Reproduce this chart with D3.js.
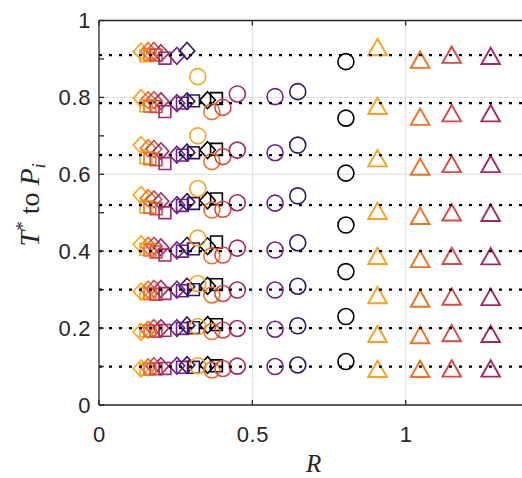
<!DOCTYPE html>
<html>
<head>
<meta charset="utf-8">
<script src="https://cdn.jsdelivr.net/npm/d3@7"></script>
<style>
  html, body { margin: 0; padding: 0; background: #fff; }
  svg { display: block; }
  .tick-label { font-family: "Liberation Sans", Arial, sans-serif; font-size: 22px; letter-spacing: 0.6px; fill: #262626; }
  .math { font-family: "Liberation Serif", "Times New Roman", serif; fill: #262626; }
</style>
</head>
<body>
<script>
// Reference levels drawn as dotted lines
const levels = [0.91, 0.785, 0.65, 0.52, 0.40, 0.30, 0.20, 0.10];

// One colour per series group (light to dark)
const groupColors = ["#f8a31b", "#f0711f", "#d34a47", "#a1296a", "#6e2185", "#301563", "#000000"];

// R value of each series, by marker type
const diamondR  = [0.137, 0.160, 0.179, 0.202, 0.254, 0.287, 0.354];
const squareR   = [0.153, 0.166, 0.186, 0.215, 0.272, 0.308, 0.383];
const circleR   = [0.322, 0.368, 0.404, 0.451, 0.574, 0.648, 0.805];
const triangleR = [0.908, 1.047, 1.150, 1.277];

// T* values, one list per colour (null where a point is absent)
const diamondT = [
  [0.919, 0.798, 0.676, 0.546, 0.418, 0.295, 0.190, 0.095],
  [0.921, 0.793, 0.668, 0.538, 0.414, 0.300, 0.196, 0.098],
  [0.921, 0.793, 0.666, 0.535, 0.414, 0.302, 0.200, 0.101],
  [0.915, 0.790, 0.660, 0.530, 0.410, 0.302, 0.200, 0.101],
  [0.908, 0.785, 0.651, 0.520, 0.402, 0.300, 0.200, 0.102],
  [0.921, 0.790, 0.657, 0.528, 0.414, 0.308, 0.207, 0.104],
  [null,  0.793, 0.663, 0.532, 0.413, 0.310, 0.208, 0.104]
];
const squareT = [
  [0.908, 0.778, 0.643, 0.515, 0.405, 0.290, 0.193, 0.093],
  [0.912, 0.777, 0.640, 0.514, 0.403, 0.290, 0.193, 0.094],
  [0.910, 0.776, 0.638, 0.510, 0.398, 0.288, 0.192, 0.094],
  [0.902, 0.763, 0.628, 0.500, 0.390, 0.290, 0.194, 0.095],
  [null,  0.785, 0.650, 0.519, 0.400, 0.297, 0.199, 0.098],
  [null,  0.791, 0.656, 0.524, 0.406, 0.300, 0.201, 0.098],
  [null,  0.797, 0.665, 0.536, 0.424, 0.313, 0.209, 0.102]
];
const circleT = [
  [0.854, 0.700, 0.563, 0.434, 0.316, 0.204, 0.102],
  [0.763, 0.633, 0.507, 0.388, 0.286, 0.191, 0.091],
  [0.774, 0.646, 0.509, 0.390, 0.290, 0.195, 0.095],
  [0.809, 0.663, 0.526, 0.408, 0.299, 0.199, 0.101],
  [0.802, 0.656, 0.525, 0.403, 0.299, 0.197, 0.100],
  [0.815, 0.676, 0.544, 0.422, 0.309, 0.206, 0.104],
  [0.893, 0.746, 0.603, 0.468, 0.347, 0.230, 0.113]
];
const triangleT = [
  [0.931, 0.778, 0.642, 0.505, 0.388, 0.286, 0.185, 0.094],
  [0.898, 0.750, 0.620, 0.492, 0.380, 0.277, 0.182, 0.094],
  [0.911, 0.759, 0.627, 0.501, 0.388, 0.282, 0.187, 0.095],
  [0.908, 0.759, 0.627, 0.500, 0.387, 0.281, 0.185, 0.095]
];

const xTicks = [0, 0.5, 1];
const xTickLabels = ["0", "0.5", "1"];
const yTicks = [0, 0.2, 0.4, 0.6, 0.8, 1];
const yTickLabels = ["0", "0.2", "0.4", "0.6", "0.8", "1"];
const yMinorTicks = d3.range(0, 1.0001, 0.1);

const W = 522, H = 478;
const mLeft = 99, mRight = 528.4, mTop = 20.5, mBottom = 405;

const x = d3.scaleLinear().domain([0, 1.4]).range([mLeft, mRight]);
const y = d3.scaleLinear().domain([0, 1]).range([mBottom, mTop]);

const svg = d3.select("body").append("svg").attr("width", W).attr("height", H);

// grid
const grid = svg.append("g").attr("stroke", "#dcdcdc").attr("stroke-width", 1);
grid.selectAll("line.gx").data(xTicks.filter(d => d > 0)).join("line")
  .attr("x1", d => x(d)).attr("x2", d => x(d)).attr("y1", mTop).attr("y2", mBottom);
grid.selectAll("line.gy").data(yTicks.filter(d => d > 0 && d < 1)).join("line")
  .attr("x1", mLeft).attr("x2", mRight).attr("y1", d => y(d)).attr("y2", d => y(d));

// marker shapes
function shapePath(kind, cx, cy) {
  if (kind === "diamond") {
    const a = 7.8, b = 8.4;
    return `M${cx},${cy - b}L${cx + a},${cy}L${cx},${cy + b}L${cx - a},${cy}Z`;
  }
  if (kind === "square") {
    const s = 5.9;
    return `M${cx - s},${cy - s}H${cx + s}V${cy + s}H${cx - s}Z`;
  }
  if (kind === "triangle") {
    const a = 9.3, b = 8.2;
    return `M${cx},${cy - b}L${cx + a},${cy + b}L${cx - a},${cy + b}Z`;
  }
  return null;
}

const plot = svg.append("g");

function drawGroup(kind, rVals, tVals) {
  const pts = [];
  rVals.forEach((r, i) => {
    tVals[i].forEach(t => { if (t !== null) pts.push({ r, t, c: groupColors[i] }); });
  });
  const g = plot.append("g").attr("fill", "none").attr("stroke-width", kind === "triangle" ? 1.9 : 1.6);
  if (kind === "circle") {
    g.selectAll("circle").data(pts).join("circle")
      .attr("cx", d => x(d.r)).attr("cy", d => y(d.t)).attr("r", 8)
      .attr("stroke", d => d.c);
  } else {
    g.selectAll("path").data(pts).join("path")
      .attr("d", d => shapePath(kind, x(d.r), y(d.t)))
      .attr("stroke", d => d.c).attr("stroke-linejoin", "miter");
  }
}

drawGroup("diamond", diamondR, diamondT);
drawGroup("square", squareR, squareT);
drawGroup("circle", circleR, circleT);
drawGroup("triangle", triangleR, triangleT);

// dotted reference lines
svg.append("g").selectAll("line").data(levels).join("line")
  .attr("x1", mLeft).attr("x2", W).attr("y1", d => y(d)).attr("y2", d => y(d))
  .attr("stroke", "#000").attr("stroke-width", 2.2).attr("stroke-dasharray", "3,7");

// axes box (left, bottom, top)
const axis = svg.append("g").attr("stroke", "#262626").attr("stroke-width", 1.3).attr("fill", "none");
axis.append("line").attr("x1", mLeft).attr("x2", mLeft).attr("y1", mTop).attr("y2", mBottom);
axis.append("line").attr("x1", mLeft).attr("x2", W).attr("y1", mBottom).attr("y2", mBottom);
axis.append("line").attr("x1", mLeft).attr("x2", W).attr("y1", mTop).attr("y2", mTop);

// tick marks
axis.selectAll("line.yt").data(yMinorTicks).join("line")
  .attr("x1", mLeft).attr("x2", mLeft + 5).attr("y1", d => y(d)).attr("y2", d => y(d));
axis.selectAll("line.xt").data(xTicks).join("line")
  .attr("x1", d => x(d)).attr("x2", d => x(d)).attr("y1", mBottom).attr("y2", mBottom - 5);
axis.selectAll("line.xtt").data(xTicks).join("line")
  .attr("x1", d => x(d)).attr("x2", d => x(d)).attr("y1", mTop).attr("y2", mTop + 5);

// tick labels
svg.append("g").selectAll("text").data(yTicks).join("text")
  .attr("class", "tick-label").attr("text-anchor", "end")
  .attr("x", mLeft - 8).attr("y", d => y(d) + 7.8)
  .text((d, i) => yTickLabels[i]);
svg.append("g").selectAll("text").data(xTicks).join("text")
  .attr("class", "tick-label").attr("text-anchor", "middle")
  .attr("x", d => x(d) + 0.5).attr("y", mBottom + 37)
  .text((d, i) => xTickLabels[i]);

// axis titles
svg.append("text").attr("class", "math").attr("x", (mLeft + mRight) / 2).attr("y", 472)
  .attr("text-anchor", "middle").attr("font-size", 25).attr("font-style", "italic").text("R");

const yl = svg.append("text").attr("class", "math").attr("font-size", 28)
  .attr("text-anchor", "middle")
  .attr("transform", `translate(39,${(mTop + mBottom) / 2 - 8}) rotate(-90)`);
yl.append("tspan").attr("font-style", "italic").text("T");
yl.append("tspan").attr("font-size", 19).attr("dy", -10).text("*");
yl.append("tspan").attr("dy", 10).text(" to ");
yl.append("tspan").attr("font-style", "italic").text("P");
yl.append("tspan").attr("font-style", "italic").attr("font-size", 19).attr("dy", 6).text("i");
</script>
</body>
</html>
